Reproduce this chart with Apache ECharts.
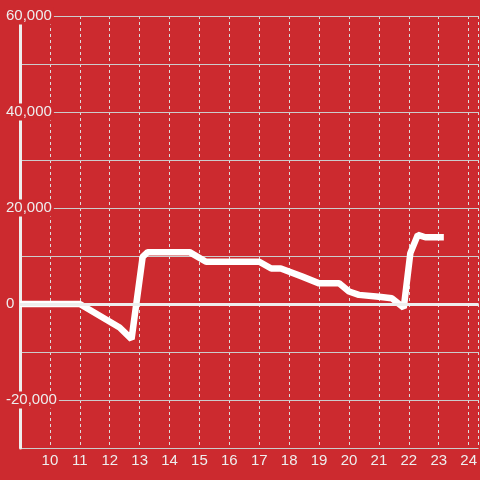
<!DOCTYPE html>
<html>
<head>
<meta charset="utf-8">
<script src="https://cdn.jsdelivr.net/npm/echarts@6/dist/echarts.min.js"></script>
<style>
html,body{margin:0;padding:0;background:#cc2a2f;}
#c{width:480px;height:480px;}
</style>
</head>
<body>
<div id="c"></div>
<script>
const xValues = [9, 11.0, 12.33, 12.73, 13.1, 13.27, 14.67, 15.22, 17.0, 17.4, 17.72, 18.44, 19.0, 19.67, 20.0, 20.33, 21.0, 21.43, 21.83, 22.05, 22.3, 22.55, 23.17];
const yValues = [0, 0, -4900, -7300, 9800, 10800, 10800, 8800, 8800, 7400, 7400, 5700, 4300, 4300, 2600, 1900, 1500, 1200, -800, 10600, 14400, 13900, 13900];
const yLabelValues = [-20000, 0, 20000, 40000, 60000];

const BG = '#cc2a2f';
const TXT = '#eeeeee';
const chart = echarts.init(document.getElementById('c'), null, {renderer: 'canvas'});
const fmt = v => {
  const s = Math.abs(v).toString().replace(/\B(?=(\d{3})+(?!\d))/g, ',');
  return (v < 0 ? '-' : '') + s;
};
chart.setOption({
  backgroundColor: BG,
  animation: false,
  grid: {left: 20, right: 0, top: 16, bottom: 32, containLabel: false},
  xAxis: {
    type: 'value', min: 9, max: 9 + 460 / 30, interval: 1,
    axisLine: {show: true, lineStyle: {color: '#cccccc', width: 1}},
    axisTick: {show: false},
    axisLabel: {color: TXT, fontSize: 15, fontFamily: 'Liberation Sans', margin: 5, showMinLabel: false, showMaxLabel: false},
    splitLine: {show: true, lineStyle: {color: '#dddddd', width: 1, type: [3, 3]}}
  },
  yAxis: {
    type: 'value', min: -30000, max: 60000, interval: 10000, z: 1,
    axisLine: {show: true, lineStyle: {color: '#eeeeee', width: 3}},
    axisTick: {show: false},
    axisLabel: {
      align: 'left', margin: 16,
      formatter: v => yLabelValues.indexOf(v) >= 0 ? '{b|' + fmt(v) + '}' : '',
      rich: {b: {color: TXT, fontSize: 15, fontFamily: 'Liberation Sans', backgroundColor: BG, padding: [1, 2, 1, 2], lineHeight: 14}}
    },
    splitLine: {show: true, lineStyle: {color: '#cccccc', width: 1}}
  },
  series: [{
    type: 'line',
    data: xValues.map((x, i) => [x, yValues[i]]),
    symbol: 'none',
    lineStyle: {color: '#ffffff', width: 6.5},
    markLine: {
      silent: true, symbol: 'none', label: {show: false},
      lineStyle: {color: '#eeeeee', width: 3, type: 'solid'},
      data: [{yAxis: 0}]
    },
    z: 3
  }]
});
</script>
</body>
</html>
